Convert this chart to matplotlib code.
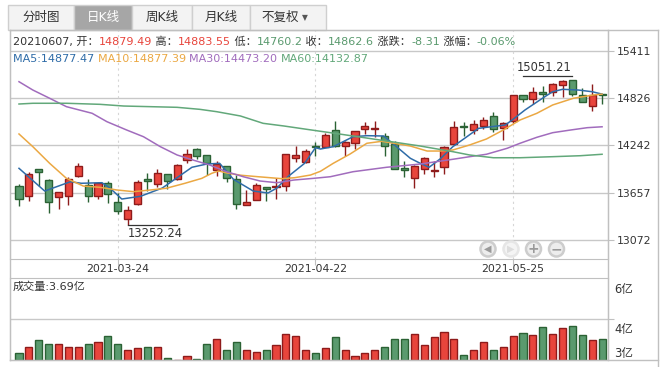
import numpy as np
import matplotlib.pyplot as plt
from matplotlib.patches import Rectangle, Circle
from matplotlib.lines import Line2D

plt.rcParams['font.family'] = ['DejaVu Sans', 'Noto Sans CJK SC']

# ---- 数据 ----
trade_date = "20210607"
opens = [13740, 13620, 13947, 13814, 13600, 13620, 13868, 13749, 13620, 13774,
         13538, 13335, 13514, 13823, 13761, 13885, 13831, 14058, 14194, 14120,
         13934, 13984, 13827, 13502, 13563, 13724, 13728, 13736, 14083, 14034,
         14239, 14227, 14430, 14235, 14269, 14442, 14446, 14363, 14260, 13959,
         13835, 13947, 13930, 13972, 14260, 14479, 14430, 14479, 14603, 14454,
         14545, 14863, 14813, 14907, 14904, 14986, 15046, 14863, 14727, 14879.49]
highs = [13765, 13917, 13951, 13821, 13670, 13848, 14029, 13823, 13793, 13806,
         13657, 13493, 13815, 13905, 13947, 13889, 14012, 14194, 14207, 14124,
         14046, 13988, 13876, 13687, 13774, 13728, 13839, 14136, 14235, 14198,
         14279, 14400, 14545, 14291, 14427, 14532, 14541, 14400, 14293, 14046,
         13996, 14103, 14050, 14235, 14548, 14536, 14557, 14598, 14652, 14529,
         14870, 14870, 14969, 14978, 15009, 15048, 15051.21, 14957, 14999, 14883.55]
lows = [13493, 13555, 13740, 13406, 13456, 13505, 13848, 13542, 13576, 13526,
        13390, 13252.24, 13502, 13678, 13732, 13699, 13815, 14021, 14071, 13876,
        13864, 13786, 13459, 13499, 13561, 13551, 13583, 13678, 14037, 14025,
        14111, 14223, 14227, 14111, 14202, 14380, 14350, 14111, 13945, 13848,
        13712, 13885, 13848, 13885, 14244, 14359, 14384, 14449, 14412, 14310,
        14524, 14780, 14751, 14783, 14854, 14845, 14854, 14774, 14668, 14760.2]
closes = [13583, 13889, 13910, 13542, 13666, 13823, 13988, 13620, 13774, 13638,
          13427, 13443, 13790, 13798, 13905, 13798, 13996, 14133, 14108, 14021,
          14009, 13835, 13514, 13538, 13749, 13699, 13736, 14133, 14120, 14173,
          14229, 14371, 14239, 14285, 14417, 14479, 14454, 14232, 13947, 13934,
          13988, 14083, 13938, 14219, 14467, 14470, 14504, 14553, 14442, 14516,
          14863, 14813, 14907, 14875, 15006, 15043, 14875, 14776, 14870.91, 14862.6]
# 成交量, 亿
volumes = [3.25, 3.45, 3.66, 3.52, 3.55, 3.45, 3.45, 3.52, 3.62, 3.79,
           3.55, 3.35, 3.39, 3.45, 3.45, 3.08, 3.01, 3.14, 3.05, 3.52,
           3.72, 3.32, 3.59, 3.32, 3.28, 3.35, 3.49, 3.86, 3.79, 3.35,
           3.25, 3.39, 3.76, 3.32, 3.15, 3.22, 3.35, 3.42, 3.72, 3.69,
           3.86, 3.49, 3.76, 3.93, 3.69, 3.18, 3.32, 3.62, 3.32, 3.45,
           3.79, 3.89, 3.83, 4.10, 3.86, 4.06, 4.13, 3.83, 3.66, 3.69]

# 均线 (读取的折点: 位置=第几根K线, 数值)
ma5_pos = [0, 2.6, 5.2, 6.3, 8.4, 9.2, 10.4, 12.3, 14.5, 17.5, 19, 20.3, 21.7, 23.7,
           25.2, 26.1, 27.2, 28.9, 30, 30.5, 31.8, 33.8, 35.2, 36.9, 38.2, 39.6,
           40.6, 41.5, 42.6, 43.9, 45.1, 46.5, 47.8, 49.2, 49.9, 51.2, 53.2, 54,
           55, 56.6, 58, 59]
ma5_val = [13959, 13678, 13793, 13774, 13781, 13715, 13579, 13613, 13715, 13972,
           14012, 14021, 13823, 13678, 13654, 13715, 13855, 14021, 14214, 14198,
           14227, 14350, 14363, 14359, 14227, 14083, 14021, 13972, 14074, 14227,
           14331, 14454, 14474, 14495, 14557, 14681, 14845, 14907, 14937, 14928,
           14907, 14877.47]
ma10_pos = [0, 1.4, 3.1, 4.8, 6.5, 8.2, 9.9, 11.6, 13.3, 14.9, 16.8, 18.5, 19.5,
            20.2, 21.2, 22.5, 24.2, 26.6, 27.9, 29.5, 30.5, 31.8, 33.5, 35.2,
            36.7, 38.6, 39.6, 41.3, 42.6, 43.9, 45.6, 47.3, 49, 50.7, 52.4, 54,
            56.1, 58.1, 59]
ma10_val = [14384, 14227, 14021, 13835, 13740, 13724, 13691, 13670, 13691, 13712,
            13774, 13835, 13897, 13926, 13897, 13873, 13855, 13831, 13843, 13876,
            13922, 14021, 14136, 14269, 14293, 14256, 14235, 14173, 14173, 14186,
            14248, 14322, 14433, 14557, 14640, 14743, 14826, 14866, 14877.39]
ma30_pos = [0, 1.4, 3.1, 4.8, 7.4, 8.9, 10.9, 12.6, 14.3, 16, 17.6, 19.3, 21,
            22.7, 24.4, 26.1, 27.8, 29.8, 31.5, 33.8, 37.2, 40.6, 43.9, 45.6,
            47.3, 49.4, 50.7, 52.4, 54, 55.8, 57.5, 59]
ma30_val = [15031, 14928, 14826, 14722, 14640, 14536, 14433, 14350, 14227, 14124,
            14062, 14000, 13917, 13855, 13802, 13781, 13814, 13835, 13855, 13917,
            13972, 14012, 14071, 14103, 14133, 14207, 14269, 14343, 14400, 14433,
            14462, 14473.20]
ma60_pos = [0, 1.4, 4.8, 8.2, 10.6, 13.3, 16, 18.3, 20, 22.4, 24.7, 26.8, 29.1,
            31.5, 33.8, 37.2, 40.6, 43.9, 45.6, 48, 50.7, 54, 56.8, 59]
ma60_val = [14755, 14764, 14764, 14751, 14730, 14722, 14714, 14689, 14660, 14607,
            14516, 14483, 14442, 14400, 14359, 14297, 14235, 14165, 14124, 14090,
            14090, 14103, 14115, 14132.87]

date_pos = [10, 30, 50]
date_labels = ["2021-03-24", "2021-04-22", "2021-05-25"]
price_ticks = [13072, 13656.75, 14241.5, 14826.25, 15411]
tabs = ["分时图", "日K线", "周K线", "月K线", "不复权"]

# ---- 颜色 ----
RED, RED_E = "#e8453c", "#8e1b1b"
GRN, GRN_E = "#5a9a6e", "#2b6234"
C_MA = ["#2f6ca8", "#eba843", "#a16cbd", "#62a87a"]
DARK = "#333333"
GRID = "#c8c8c8"
FRAME = "#c0c0c0"
FS = 8.0

W, H = 668, 367
fig = plt.figure(figsize=(W / 100, H / 100), dpi=100)


def fx(x):
    return x / W


def fy(y):
    return 1 - y / H


def box(x0, y0, x1, y1):
    return [fx(x0), fy(y1), fx(x1) - fx(x0), fy(y0) - fy(y1)]


n = len(closes)
idx = np.arange(n)
up = np.array(closes) >= np.array(opens)

# ---- K线 ----
ax = fig.add_axes(box(10, 30, 608, 259))
ax.set_xlim(-0.91, 59.6)
ax.set_ylim(12836.8, 15670.9)
for s in ax.spines.values():
    s.set_color(FRAME)
for p in price_ticks:
    ax.axhline(p, color=GRID, lw=1, zorder=0)
for d in date_pos:
    ax.axvline(d, color="#d6d6d6", lw=0.8, ls=(0, (2, 3)), zorder=0)

o = np.array(opens)
c = np.array(closes)
ax.vlines(idx, lows, highs, colors=np.where(up, RED_E, GRN_E), lw=1, zorder=2)
ax.bar(idx, np.abs(c - o), bottom=np.minimum(o, c), width=0.72,
       color=np.where(up, RED, GRN), edgecolor=np.where(up, RED_E, GRN_E),
       lw=1, zorder=2)

for pos, val, col in zip([ma5_pos, ma10_pos, ma30_pos, ma60_pos],
                         [ma5_val, ma10_val, ma30_val, ma60_val], C_MA):
    ax.plot(pos, val, color=col, lw=1.1, zorder=3)

ax.yaxis.tick_right()
ax.set_yticks(price_ticks)
ax.set_yticklabels([f"{p:.0f}" for p in price_ticks])
ax.tick_params(axis="y", length=4, width=0.8, color=FRAME, pad=2,
               labelsize=7.8, labelcolor=DARK)
ax.set_xticks(date_pos)
ax.set_xticklabels(date_labels)
ax.tick_params(axis="x", length=4, width=0.8, color=FRAME, pad=-0.5,
               labelsize=7.8, labelcolor=DARK)

# 最高/最低标注
lo_i = int(np.argmin(lows))
hi_i = int(np.argmax(highs))
ax.plot([lo_i, lo_i + 5], [lows[lo_i]] * 2, color=DARK, lw=0.9, zorder=4)
ax.text(lo_i + 0.05, lows[lo_i] - 20, f"{lows[lo_i]:.2f}", color=DARK,
        fontsize=8.3, va="top", ha="left")
ax.plot([hi_i - 5, hi_i], [highs[hi_i] + 50] * 2, color=DARK, lw=0.9, zorder=4)
ax.text(hi_i - 0.1, highs[hi_i] + 70, f"{highs[hi_i]:.2f}", color=DARK,
        fontsize=8.3, va="bottom", ha="right")

# ---- 成交量 ----
vol_lo, vol_hi = 3.0, 5.75
vol_mid = (vol_lo + vol_hi) / 2
axv = fig.add_axes(box(10, 278, 608, 360))
axv.set_xlim(-0.91, 59.6)
axv.set_ylim(vol_lo, vol_hi)
for s in axv.spines.values():
    s.set_color(FRAME)
axv.axhline(vol_mid, color=GRID, lw=1, zorder=0)
v = np.array(volumes)
axv.bar(idx, v - vol_lo, bottom=vol_lo, width=0.72,
        color=np.where(up, RED, GRN), edgecolor=np.where(up, RED_E, GRN_E),
        lw=1, zorder=2)
axv.set_xticks([])
axv.set_yticks([vol_mid])
axv.yaxis.tick_right()
axv.set_yticklabels([])
axv.tick_params(axis="y", length=4, width=0.8, color=FRAME)
for val, dy in [(vol_hi, -12), (vol_mid, -10), (vol_lo, 7)]:
    axv.annotate(f"{round(val)}亿", (1, val), xycoords=("axes fraction", "data"),
                 xytext=(4.5, dy * 0.72), textcoords="offset points",
                 fontsize=8.3, color=DARK, va="center", ha="left")
axv.text(0.005, 0.89, f"成交量:{volumes[-1]:.2f}亿", transform=axv.transAxes,
         fontsize=FS, color=DARK, va="center", ha="left")

# ---- 外框 ----
for (x0, y0, x1, y1) in [(10, 30, 10, 360), (608, 30, 608, 360),
                         (658, 30, 658, 367), (10, 30, 658, 30),
                         (10, 360, 658, 360)]:
    fig.add_artist(Line2D([fx(x0), fx(x1)], [fy(y0), fy(y1)], color=FRAME, lw=1))

# ---- 顶部标签页 ----
edges = [8, 74, 132, 192, 250, 326]
for k, name in enumerate(tabs):
    x0, x1 = edges[k], edges[k + 1]
    sel = k == 1
    fig.add_artist(Rectangle((fx(x0), fy(29.5)), fx(x1) - fx(x0), fy(5) - fy(29.5),
                             transform=fig.transFigure, facecolor="#a6a6a6" if sel else "#f3f3f3",
                             edgecolor="#cfcfcf", lw=1))
    cx = (x0 + x1) / 2 - (8 if k == 4 else 0)
    fig.text(fx(cx), fy(17.5), name, fontsize=9, color="white" if sel else DARK,
             ha="center", va="center")
fig.text(fx(305), fy(18), "▼", fontsize=5.5, color="#555555", ha="center", va="center")

# ---- 行情信息 ----
r = fig.canvas.get_renderer()


def seq_text(x, y, parts, size):
    for s, col in parts:
        t = fig.text(fx(x), fy(y), s, color=col, fontsize=size, va="center", ha="left")
        x = t.get_window_extent(r).x1
    return x


prev = closes[-2]
chg = closes[-1] - prev
pct = chg / prev * 100
ud = RED if chg >= 0 else GRN
header = [(f"{trade_date}, 开：", DARK), (str(opens[-1]), RED if opens[-1] >= prev else GRN),
          (" 高：", DARK), (str(highs[-1]), RED if highs[-1] >= prev else GRN),
          (" 低：", DARK), (str(lows[-1]), RED if lows[-1] >= prev else GRN),
          (" 收：", DARK), (str(closes[-1]), ud),
          (" 涨跌：", DARK), (f"{chg:.2f}", ud),
          (" 涨幅：", DARK), (f"{pct:.2f}%", ud)]
seq_text(13, 42, header, FS)
ma_line = [(f"MA5:{ma5_val[-1]:.2f} ", C_MA[0]), (f"MA10:{ma10_val[-1]:.2f} ", C_MA[1]),
           (f"MA30:{ma30_val[-1]:.2f} ", C_MA[2]), (f"MA60:{ma60_val[-1]:.2f}", C_MA[3])]
seq_text(13, 59.5, ma_line, FS)

# ---- 缩放按钮 ----
for bx, glyph, on in [(488, "◀", True), (511, "▶", False), (533.5, "+", True), (556.5, "−", True)]:
    fig.add_artist(Circle((bx / 100, (H - 249) / 100), 0.075, transform=fig.dpi_scale_trans,
                          facecolor="#ededed" if on else "#f4f4f4",
                          edgecolor="#cdcdcd" if on else "#e6e6e6", lw=1.8))
    fig.text(fx(bx), fy(249), glyph, fontsize=7 if glyph in "◀▶" else 10,
             color="#9a9a9a" if on else "#dddddd", ha="center", va="center",
             fontweight="bold")

fig.savefig("out.png", dpi=100)
